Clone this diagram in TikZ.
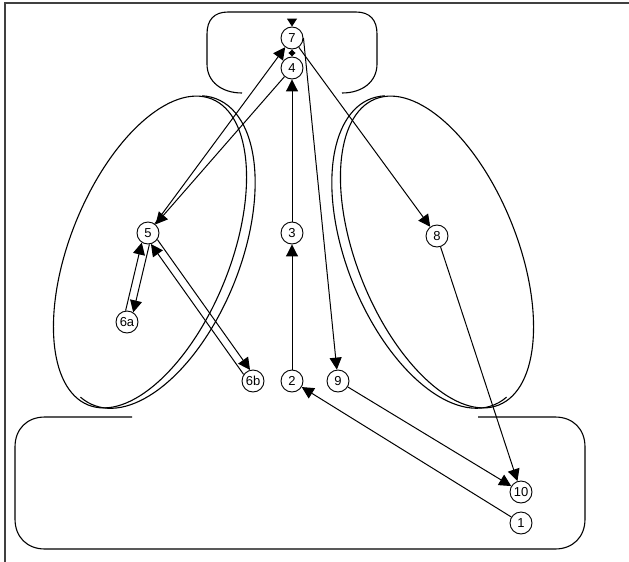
\documentclass[tikz,border=0pt]{standalone}
\usepackage{fontspec}
\setmainfont{Liberation Sans}
\usetikzlibrary{arrows.meta}
\begin{document}
\begin{tikzpicture}[x=1pt,y=-1pt,
  vtx/.style={circle,draw,line width=0.9pt,minimum size=22pt,inner sep=0pt,
              font=\fontsize{13}{13}\selectfont,fill=white},
  edge/.style={line width=1pt,-{Triangle[length=12pt,width=12pt]}},
  tinyedge/.style={line width=1pt,{Triangle[length=4pt,width=7pt]}-{Triangle[length=4pt,width=7pt]}},
  region/.style={line width=1.1pt}]
\useasboundingbox (0,0) rectangle (629,562);
% frame
\draw[line width=1.2pt,black!75] (5,562) -- (5,3) -- (629,3);
% top box (open at bottom)
\draw[region] (242,93) .. controls (222,93) and (207,82) .. (207,64) -- (207,34)
  .. controls (207,20) and (214,12) .. (228,12) -- (356,12)
  .. controls (370,12) and (377,20) .. (377,34) -- (377,64)
  .. controls (377,82) and (362,93) .. (342,93);
% bottom box (partially open at top)
\draw[region] (132,417) -- (45,417) .. controls (27,417) and (15,429) .. (15,447) -- (15,519)
  .. controls (15,537) and (27,549) .. (45,549) -- (555,549)
  .. controls (573,549) and (585,537) .. (585,519) -- (585,447)
  .. controls (585,429) and (573,417) .. (555,417) -- (478,417);
% left lobe
\draw[region,rotate around={-22:(150,252)}] (150,252) ellipse[x radius=80pt,y radius=165pt];
\begin{scope}[shift={(155,252)},rotate=-22,y=1pt]
  \draw[region] ({85*cos(-100)},{165*sin(-100)}) arc[start angle=-100,end angle=100,x radius=85,y radius=165];
\end{scope}
% right lobe
\draw[region,rotate around={22:(437,252)}] (437,252) ellipse[x radius=80pt,y radius=165pt];
\begin{scope}[shift={(432,252)},rotate=22,y=1pt]
  \draw[region] ({85*cos(80)},{165*sin(80)}) arc[start angle=80,end angle=280,x radius=85,y radius=165];
\end{scope}
% nodes
\node[vtx] (n7) at (292,38) {7};
\node[vtx] (n4) at (292,68) {4};
\node[vtx] (n3) at (292,233) {3};
\node[vtx] (n5) at (148,233) {5};
\node[vtx] (n6a) at (127,322) {6a};
\node[vtx] (n6b) at (253,381) {6b};
\node[vtx] (n2) at (292,381) {2};
\node[vtx] (n9) at (338,381) {9};
\node[vtx] (n8) at (437,236) {8};
\node[vtx] (n10) at (521,492) {10};
\node[vtx] (n1) at (521,523) {1};
\coordinate (c7top) at (292,19);
% edges
\draw[edge] (n5) -- (n7);
\draw[edge] (n4) -- (n5);
\draw[edge] (n7) -- (n8);
\draw[edge] (n7.east) -- (n9);
\draw[edge] (n3) -- (n4);
\draw[edge] (n2) -- (n3);
\draw[edge] (n6a.97) -- (n5.237);
\draw[edge] (n5.277) -- (n6a.57);
\draw[edge] (n5.-35) -- (n6b.105);
\draw[edge] (n6b.145) -- (n5.-75);
\draw[edge] (n9) -- (n10);
\draw[edge] (n1) -- (n2);
\draw[edge] (n8) -- (n10);
\draw[tinyedge] (n7) -- (n4);
\draw[line width=1pt,-{Triangle[length=8pt,width=10pt]}] (c7top) -- (n7);
\end{tikzpicture}
\end{document}
